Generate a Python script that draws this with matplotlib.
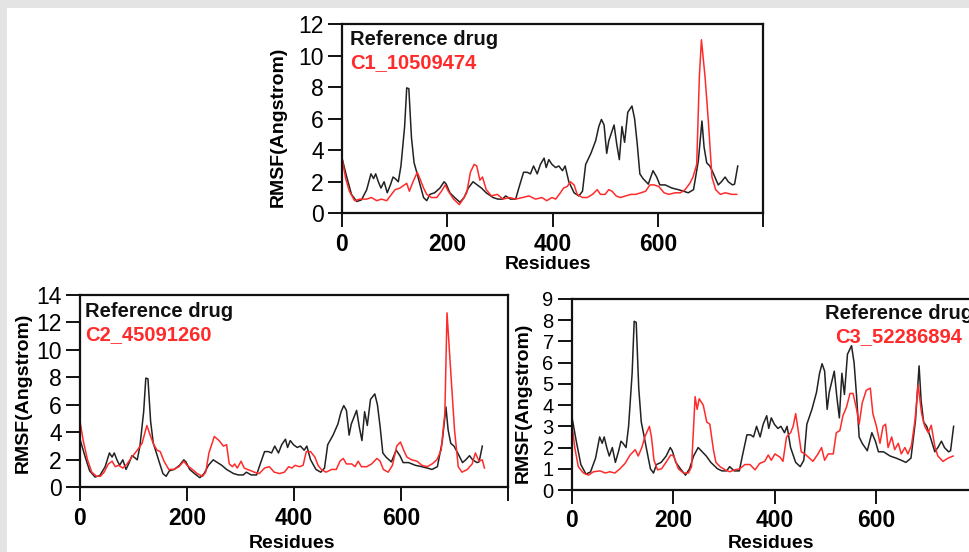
import matplotlib
matplotlib.use("Agg")
import matplotlib.pyplot as plt
from matplotlib.patches import Rectangle

plt.rcParams['font.family'] = ['Liberation Sans', 'DejaVu Sans']

# Reference drug RMSF per residue (same trajectory shown in every panel)
ref_res = [0, 9, 18, 28, 37, 47, 55, 60, 64, 69, 74, 80, 86, 92, 97, 101, 107, 112, 119, 123,
           127, 132, 137, 142, 148, 155, 161, 167, 176, 186, 194, 198, 205, 214, 224, 232, 240, 249, 255, 265,
           274, 287, 296, 305, 311, 320, 330, 336, 345, 352, 358, 364, 371, 377, 384, 388, 393, 399, 406, 412,
           419, 424, 431, 441, 450, 457, 463, 473, 482, 488, 493, 498, 503, 507, 512, 517, 522, 527, 532, 537,
           543, 551, 556, 561, 566, 572, 582, 591, 598, 604, 614, 627, 639, 649, 658, 668, 677, 684, 688, 693,
           699, 706, 715, 721, 728, 734, 742, 746, 752]
ref_rmsf = [3.5, 2.3, 1.2, 0.75, 0.85, 1.5, 2.5, 2.2, 2.5, 2.0, 1.6, 2.0, 1.3, 1.8, 2.3, 2.2, 2.0, 3.0, 5.5, 7.95,
            7.9, 4.8, 3.2, 2.6, 1.85, 1.0, 0.8, 1.2, 1.3, 1.6, 2.0, 1.85, 1.3, 1.0, 0.7, 1.0, 1.6, 2.0, 1.85, 1.6,
            1.3, 1.0, 0.9, 0.9, 1.1, 0.9, 0.9, 1.6, 2.6, 2.6, 2.5, 3.0, 2.5, 3.1, 3.5, 2.9, 3.4, 3.1, 2.9, 3.0,
            2.7, 3.0, 2.0, 1.3, 1.1, 1.4, 3.1, 3.8, 4.6, 5.5, 5.95, 5.6, 3.8, 4.6, 5.1, 5.6, 4.4, 3.4, 5.5, 4.5,
            6.4, 6.8, 6.0, 4.4, 2.5, 2.2, 1.85, 2.7, 2.3, 1.8, 1.8, 1.6, 1.5, 1.4, 1.3, 1.5, 3.3, 5.85, 4.2, 3.2,
            3.0, 2.5, 1.8, 2.0, 2.3, 2.0, 1.8, 1.85, 3.0]

# Compound C1_10509474
c1_res = [0, 7, 14, 24, 34, 47, 56, 66, 75, 85, 94, 101, 110, 123, 128, 135, 143, 148, 155, 161,
          170, 180, 189, 196, 202, 212, 223, 230, 237, 244, 251, 256, 262, 267, 274, 284, 295, 306, 318, 330,
          343, 355, 368, 380, 389, 399, 406, 415, 421, 428, 434, 441, 447, 457, 466, 476, 485, 491, 500, 507,
          513, 521, 529, 539, 549, 558, 568, 577, 585, 593, 602, 612, 621, 633, 643, 652, 661, 667, 674, 679,
          683, 690, 696, 703, 710, 719, 728, 741, 750]
c1_rmsf = [3.5, 2.2, 1.4, 0.8, 0.9, 0.9, 1.0, 0.8, 0.9, 0.8, 1.2, 1.5, 1.6, 1.9, 1.4, 2.0, 2.6, 2.2, 1.6, 1.2,
           1.0, 1.0, 1.4, 1.8, 1.4, 0.9, 0.55, 0.9, 1.3, 2.6, 3.1, 3.0, 2.1, 2.3, 1.5, 1.1, 1.2, 0.9, 1.0, 0.9,
           1.0, 1.1, 0.9, 1.0, 0.8, 1.0, 0.9, 1.3, 1.6, 1.7, 2.0, 1.8, 1.2, 1.0, 1.0, 1.2, 1.5, 1.2, 1.2, 1.5,
           1.4, 1.1, 1.0, 1.1, 1.2, 1.2, 1.3, 1.4, 1.8, 1.8, 1.7, 1.3, 1.2, 1.3, 1.3, 1.5, 1.9, 2.3, 3.1, 8.6,
           11.0, 8.6, 5.9, 2.3, 1.5, 1.2, 1.3, 1.2, 1.2]

# Compound C2_45091260
c2_res = [0, 6, 14, 22, 31, 38, 45, 53, 60, 66, 72, 80, 88, 97, 107, 116, 125, 132, 138, 144,
          150, 157, 166, 175, 185, 194, 200, 210, 219, 229, 235, 241, 251, 260, 268, 274, 279, 285, 289, 294,
          301, 307, 313, 326, 335, 345, 354, 363, 373, 382, 390, 396, 402, 410, 417, 423, 431, 439, 445, 451,
          460, 470, 479, 486, 492, 498, 508, 514, 520, 526, 536, 545, 555, 561, 567, 576, 584, 592, 599, 605,
          611, 620, 630, 639, 649, 658, 667, 675, 682, 686, 694, 700, 707, 714, 724, 733, 739, 746, 752, 756]
c2_rmsf = [4.8, 3.4, 2.0, 1.1, 0.8, 0.8, 1.1, 1.7, 1.9, 1.5, 1.6, 1.4, 1.7, 2.2, 2.7, 3.2, 4.5, 3.7, 3.1, 2.7,
           2.6, 1.9, 1.3, 1.3, 1.5, 1.9, 1.6, 1.3, 1.0, 0.8, 1.1, 2.5, 3.7, 3.4, 3.0, 3.1, 1.7, 1.5, 1.7, 1.4,
           1.9, 1.4, 1.3, 1.1, 1.0, 1.4, 1.5, 1.1, 1.0, 1.1, 1.5, 1.4, 1.6, 1.5, 1.6, 2.6, 2.6, 2.2, 1.6, 1.3,
           1.1, 1.3, 1.3, 1.9, 2.1, 1.7, 1.7, 1.5, 1.9, 1.5, 1.5, 1.7, 2.1, 1.9, 1.3, 1.1, 1.6, 3.0, 3.3, 2.7,
           2.2, 2.0, 1.9, 1.6, 1.5, 1.7, 2.0, 2.7, 5.4, 12.7, 7.8, 4.2, 1.5, 1.1, 1.3, 1.7, 2.5, 1.9, 2.0, 1.4]

# Compound C3_52286894
c3_res = [0, 6, 13, 23, 33, 43, 56, 66, 75, 85, 95, 105, 115, 125, 131, 138, 144, 153, 157, 162,
          169, 177, 187, 195, 201, 210, 220, 230, 236, 243, 247, 251, 259, 266, 272, 279, 284, 292, 302, 311,
          321, 331, 341, 351, 361, 370, 380, 387, 393, 400, 410, 416, 423, 431, 436, 441, 446, 452, 459, 466,
          475, 485, 492, 498, 505, 515, 521, 528, 534, 541, 548, 554, 561, 566, 572, 580, 588, 593, 600, 607,
          613, 618, 623, 630, 636, 643, 649, 656, 662, 669, 676, 682, 689, 695, 702, 708, 715, 721, 731, 741,
          751]
c3_rmsf = [3.2, 2.0, 1.1, 0.8, 0.7, 0.86, 0.9, 0.8, 0.86, 0.8, 1.0, 1.25, 1.65, 1.9, 1.6, 2.0, 2.5, 3.0, 2.5, 1.4,
           0.95, 1.0, 1.35, 1.65, 1.6, 1.0, 0.8, 0.8, 1.1, 4.4, 3.8, 4.3, 4.0, 3.2, 3.1, 1.9, 1.3, 1.1, 0.95, 0.86,
           0.95, 1.0, 1.2, 1.2, 0.95, 1.25, 1.35, 1.65, 1.4, 1.7, 1.55, 1.35, 2.5, 2.7, 3.0, 3.6, 2.8, 1.8, 1.7, 1.55,
           1.35, 1.7, 2.0, 1.4, 1.7, 1.7, 2.7, 2.8, 3.5, 3.9, 4.55, 4.55, 3.8, 3.1, 4.1, 4.7, 4.8, 3.6, 3.0, 2.2,
           3.0, 3.1, 2.0, 2.5, 1.9, 2.2, 1.7, 2.0, 1.7, 2.1, 3.3, 4.95, 3.6, 3.0, 2.7, 3.05, 2.05, 1.6, 1.35, 1.5,
           1.6]

x_ticks = [0, 200, 400, 600, 800]
x_tick_labels = ['0', '200', '400', '600', '']

BLACK = '#222222'
RED = '#ff2b2b'

W, H = 969, 552
fig = plt.figure(figsize=(W / 100, H / 100), dpi=100)
fig.patch.set_facecolor('white')

# page frame strips along the top and left edge
fig.patches.append(Rectangle((0, 1 - 8 / H), 1, 8 / H, transform=fig.transFigure,
                             facecolor='#e4e4e4', edgecolor='none', zorder=0))
fig.patches.append(Rectangle((0, 0), 7 / W, 1, transform=fig.transFigure,
                             facecolor='#e4e4e4', edgecolor='none', zorder=0))


def px_axes(left, top, right, bottom):
    return fig.add_axes([left / W, 1 - bottom / H, (right - left) / W, (bottom - top) / H])


def draw_panel(ax, comp_res, comp_rmsf, comp_name, ymax, ystep, ytick_size,
               legend_xy, legend_ha, ylabel_xy, xlabel_xy):
    ax.plot(ref_res, ref_rmsf, color=BLACK, lw=1.1)
    ax.plot(comp_res, comp_rmsf, color=RED, lw=1.1)
    ax.set_xlim(0, 800)
    ax.set_ylim(0, ymax)
    ax.set_xticks(x_ticks)
    ax.set_xticklabels(x_tick_labels, fontsize=16.5, fontweight='bold')
    ax.set_yticks(range(0, ymax + 1, ystep))
    ax.set_yticklabels([str(v) for v in range(0, ymax + 1, ystep)], fontsize=ytick_size)
    ax.tick_params(axis='both', direction='out', length=10, width=1.4, color='#111111')
    ax.tick_params(axis='y', pad=3)
    ax.tick_params(axis='x', pad=4)
    for sp in ax.spines.values():
        sp.set_linewidth(1.6)
        sp.set_color('#111111')
    ax.set_ylabel('RMSF(Angstrom)', fontsize=14, fontweight='bold')
    ax.yaxis.label.set_va('center')
    ax.yaxis.set_label_coords(*ylabel_xy)
    ax.set_xlabel('Residues', fontsize=14, fontweight='bold')
    ax.xaxis.label.set_va('center')
    ax.xaxis.set_label_coords(*xlabel_xy)
    lx, ly1, ly2 = legend_xy
    ax.text(lx, ly1, 'Reference drug', transform=ax.transAxes, fontsize=14.5,
            fontweight='bold', color='#111111', ha=legend_ha, va='baseline')
    ax.text(lx, ly2, comp_name, transform=ax.transAxes, fontsize=14.5,
            fontweight='bold', color=RED, ha=legend_ha, va='baseline')


ax1 = px_axes(342, 24, 763, 213.3)
draw_panel(ax1, c1_res, c1_rmsf, 'C1_10509474', 12, 2, 16.5,
           (0.019, 0.889, 0.768), 'left', (-0.152, 0.456), (0.49, -0.268))

ax2 = px_axes(80, 295, 508, 487.3)
draw_panel(ax2, c2_res, c2_rmsf, 'C2_45091260', 14, 2, 16.5,
           (0.012, 0.887, 0.766), 'left', (-0.132, 0.49), (0.495, -0.29))

ax3 = px_axes(571.7, 299, 978, 490)
draw_panel(ax3, c3_res, c3_rmsf, 'C3_52286894', 9, 1, 14.5,
           (0.805, 0.895, 0.776), 'center', (-0.1186, 0.455), (0.49, -0.28))

fig.savefig('out.png', dpi=100, facecolor='white')
